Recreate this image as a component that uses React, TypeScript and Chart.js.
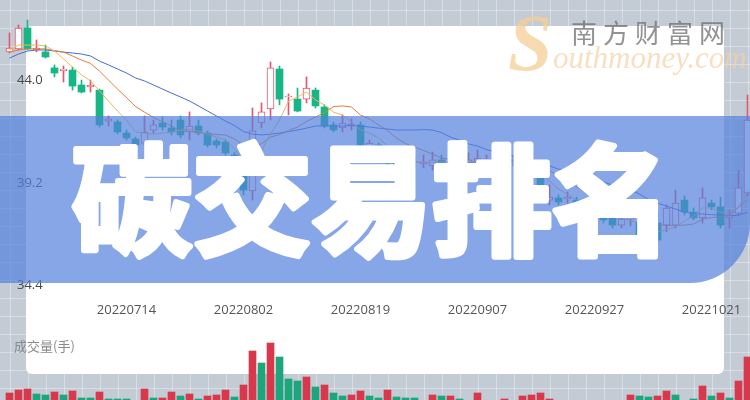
import React, { useEffect, useRef } from 'react';
import { Chart, registerables } from 'chart.js';

Chart.register(...registerables);
Chart.defaults.font.family = "'Open Sans', sans-serif";

const dates = [
  '20220627','20220628','20220629','20220630','20220701','20220704','20220705','20220706','20220707','20220708',
  '20220711','20220712','20220713','20220714','20220715','20220718','20220719','20220720','20220721','20220722',
  '20220725','20220726','20220727','20220728','20220729','20220801','20220802','20220803','20220804','20220805',
  '20220808','20220809','20220810','20220811','20220812','20220815','20220816','20220817','20220818','20220819',
  '20220822','20220823','20220824','20220825','20220826','20220829','20220830','20220831','20220901','20220902',
  '20220905','20220906','20220907','20220908','20220909','20220913','20220914','20220915','20220916','20220919',
  '20220920','20220921','20220922','20220923','20220926','20220927','20220928','20220929','20220930','20221010',
  '20221011','20221012','20221013','20221014','20221017','20221018','20221019','20221020','20221021','20221024',
  '20221025','20221026','20221027',
];

const tickDates = ['20220714', '20220802', '20220819', '20220907', '20220927', '20221021'];
const priceTicks = [34.4, 39.2, 44.0];

const opens = [
  45.34,45.48,46.46,45.43,45.34,44.59,44.45,44.49,43.79,43.70,
  43.55,42.10,42.06,41.54,41.26,41.07,41.68,42.01,41.78,42.15,
  41.59,41.87,41.54,41.17,41.12,40.51,39.67,38.83,42.01,42.67,
  44.54,43.23,43.13,43.13,43.55,42.76,41.92,41.78,41.87,41.92,
  40.89,40.98,40.51,40.28,40.05,40.14,40.09,40.00,40.28,40.05,
  40.19,40.05,40.09,40.28,40.37,40.19,40.28,40.19,39.81,39.48,
  38.40,38.50,38.45,38.40,38.03,37.23,37.61,37.61,37.23,37.51,
  37.37,36.76,37.33,37.23,37.23,38.40,37.84,37.56,38.26,38.08,
  37.56,37.79,38.73,
];
const closes = [
  45.52,46.46,45.48,45.52,45.10,44.35,44.54,43.74,43.46,43.79,
  41.92,42.20,41.59,41.31,40.98,41.59,41.92,41.82,41.59,41.45,
  41.87,41.54,40.98,40.98,40.61,39.91,38.87,41.64,42.53,44.59,
  43.13,43.27,42.57,43.65,42.81,41.87,41.68,42.01,41.96,40.98,
  41.07,40.51,40.14,40.09,40.19,40.19,40.19,40.28,40.00,40.23,
  40.14,40.28,40.37,40.33,40.05,40.37,40.23,39.81,39.44,38.54,
  38.54,38.31,38.54,38.03,37.66,37.61,37.47,37.23,37.51,37.56,
  36.53,36.44,36.53,38.03,38.26,37.84,37.56,38.50,38.08,37.23,
  37.70,38.97,42.15,
];
const highs = [
  46.23,46.60,46.83,45.90,45.66,44.73,44.68,44.63,44.02,44.02,
  43.60,42.34,42.15,41.68,41.35,42.34,42.15,42.29,42.15,42.34,
  42.53,42.15,41.64,41.26,41.21,40.65,39.81,42.71,42.95,44.87,
  44.68,43.37,43.65,44.17,43.65,42.86,42.06,42.39,42.20,42.06,
  41.21,41.07,40.75,40.42,40.37,40.47,40.51,40.65,40.51,40.42,
  40.42,40.61,40.75,40.51,40.51,40.75,40.51,40.37,39.95,39.57,
  39.11,38.64,38.78,38.54,38.17,37.84,37.75,37.70,37.66,37.70,
  37.56,37.00,37.84,38.17,38.87,38.59,38.03,38.97,38.40,38.54,
  37.94,39.81,43.32,
];
const lows = [
  45.29,45.43,45.43,45.34,45.05,44.17,43.93,43.55,43.42,43.46,
  41.82,41.87,41.50,41.21,40.89,40.98,41.54,41.68,41.45,41.31,
  41.21,41.45,40.89,40.84,40.51,39.72,38.64,38.40,41.78,42.15,
  42.86,42.39,42.53,42.95,42.71,41.78,41.59,41.59,41.68,40.89,
  40.75,40.37,40.00,39.91,39.91,39.95,39.91,39.81,39.91,39.91,
  39.95,39.91,39.95,40.05,39.91,40.05,40.00,39.72,39.34,38.40,
  38.17,38.17,38.26,37.84,37.47,37.09,37.33,37.09,37.09,37.19,
  35.73,36.16,36.35,36.91,37.09,37.70,37.47,37.33,37.94,37.09,
  37.09,37.66,38.59,
];

const ma5 = [
  45.43,45.66,45.66,45.66,45.62,45.38,45.01,44.63,44.26,43.98,
  43.51,43.04,42.57,42.15,41.59,41.54,41.49,41.54,41.59,41.68,
  41.73,41.63,41.49,41.35,41.21,40.79,40.28,40.42,40.70,41.49,
  42.15,43.04,43.23,43.46,43.09,42.85,42.52,42.38,42.06,41.68,
  41.54,41.31,40.93,40.56,40.42,40.23,40.14,40.16,40.19,40.17,
  40.20,40.18,40.22,40.28,40.23,40.28,40.28,40.14,40.00,39.67,
  39.29,38.92,38.68,38.40,38.21,38.03,37.84,37.61,37.51,37.47,
  37.28,37.04,36.90,37.00,37.14,37.42,37.65,38.03,38.03,37.84,
  37.79,38.07,38.82,
];
const ma10 = [
  45.33,45.43,45.48,45.48,45.48,45.40,45.33,45.15,44.96,44.80,
  44.44,44.02,43.60,43.20,42.78,42.52,42.27,42.06,41.87,41.63,
  41.63,41.56,41.52,41.47,41.45,41.26,40.96,40.96,41.03,41.35,
  41.47,41.66,41.82,42.08,42.29,42.50,42.78,42.81,42.76,42.38,
  42.20,41.92,41.66,41.31,41.05,40.88,40.72,40.56,40.37,40.30,
  40.21,40.16,40.18,40.23,40.21,40.23,40.23,40.21,40.11,39.97,
  39.78,39.53,39.34,39.03,38.75,38.47,38.26,38.00,37.86,37.75,
  37.56,37.32,37.21,37.23,37.21,37.23,37.28,37.51,37.58,37.63,
  37.72,38.05,38.43,
];
const ma20 = [
  45.05,45.24,45.38,45.43,45.43,45.38,45.33,45.29,45.24,45.15,
  44.91,44.73,44.54,44.35,44.12,43.98,43.79,43.60,43.41,43.23,
  43.04,42.81,42.57,42.34,42.10,41.89,41.61,41.49,41.45,41.49,
  41.54,41.61,41.68,41.77,41.87,41.87,41.87,41.87,41.89,41.87,
  41.82,41.77,41.73,41.68,41.68,41.68,41.70,41.68,41.56,41.35,
  41.21,41.03,40.93,40.77,40.63,40.56,40.46,40.37,40.23,40.14,
  40.00,39.85,39.76,39.62,39.48,39.34,39.25,39.10,38.99,38.87,
  38.68,38.43,38.26,38.12,37.98,37.84,37.77,37.75,37.72,37.70,
  37.65,37.70,37.82,
];

const volumes = [
  27000,30000,31000,26000,25000,28000,25000,29000,22000,22000,
  28000,21000,21000,21000,19000,31000,22000,22000,28000,24000,
  26000,21000,24000,25000,30000,23000,35000,69000,57000,77000,
  63000,41000,39000,43000,33000,35000,27000,24000,25000,29000,
  24000,22000,30000,23000,22000,22000,19000,25000,24000,24000,
  21000,18000,27000,18000,19000,21000,18000,24000,25000,27000,
  21000,17000,18000,16000,19000,18000,17000,19000,18000,25000,
  24000,23000,24000,29000,25000,19000,21000,34000,24000,27000,
  22000,39000,63000,
];
const volUp = [
  1,1,1,0,0,1,0,1,0,0,
  1,0,0,0,0,1,0,1,1,0,
  1,0,1,1,1,0,1,1,0,1,
  0,0,0,1,0,1,0,0,1,1,
  0,0,1,0,0,0,0,1,0,1,
  0,1,1,0,0,1,0,1,1,1,
  1,0,1,0,0,1,0,0,1,1,
  0,0,1,1,0,0,0,1,0,1,
  0,1,1,
];

const UP = '#E4566B';
const DOWN = '#17B686';
const VOL_UP = '#D8384B';
const VOL_DOWN = '#1DA57B';

const PAGE_W = 760;

function paintBackdrop(ctx: CanvasRenderingContext2D, offY: number, h: number) {
  ctx.save();
  ctx.translate(0, -offY);
  ctx.fillStyle = '#C3CBD5';
  ctx.fillRect(0, offY, PAGE_W, h);
  ctx.strokeStyle = 'rgba(255,255,255,0.34)';
  ctx.lineWidth = 1;
  ctx.beginPath();
  for (let x = 10.5; x < PAGE_W; x += 18) {
    ctx.moveTo(x, offY);
    ctx.lineTo(x, offY + h);
  }
  for (let y = 10.5; y < offY + h; y += 18) {
    if (y < offY) continue;
    ctx.moveTo(0, y);
    ctx.lineTo(PAGE_W, y);
  }
  ctx.stroke();
  ctx.fillStyle = '#ffffff';
  ctx.beginPath();
  (ctx as any).roundRect(26, 26, 698, 348, 6);
  ctx.fill();
  ctx.restore();
}

const priceDecor = {
  id: 'priceDecor',
  beforeDraw(chart: any) {
    paintBackdrop(chart.ctx, 0, chart.height);
  },
  afterDatasetsDraw(chart: any) {
    const ctx = chart.ctx as CanvasRenderingContext2D;
    ctx.save();
    ctx.fillStyle = 'rgba(82,128,222,0.7)';
    ctx.beginPath();
    ctx.moveTo(0, 116);
    ctx.lineTo(750, 116);
    ctx.lineTo(750, 223);
    ctx.arc(690, 223, 60, 0, Math.PI / 2);
    ctx.lineTo(0, 283);
    ctx.closePath();
    ctx.fill();
    ctx.restore();
  },
  afterDraw(chart: any) {
    const ctx = chart.ctx as CanvasRenderingContext2D;
    ctx.save();
    // title
    ctx.font = "bold 120px 'Noto Sans CJK SC'";
    ctx.textAlign = 'center';
    ctx.textBaseline = 'middle';
    ctx.fillStyle = '#ffffff';
    ctx.strokeStyle = '#ffffff';
    ctx.lineWidth = 6;
    ctx.lineJoin = 'round';
    ctx.strokeText('碳交易排名', 372, 200);
    ctx.fillText('碳交易排名', 372, 200);
    // watermark
    ctx.textAlign = 'left';
    ctx.textBaseline = 'alphabetic';
    ctx.font = "bold italic 80px 'Liberation Serif'";
    ctx.fillStyle = 'rgba(244,205,150,0.75)';
    ctx.fillText('S', 508, 70);
    ctx.font = "italic 31px 'Liberation Serif'";
    ctx.fillStyle = 'rgba(243,210,165,0.7)';
    ctx.fillText('outhmoney.com', 553, 68);
    ctx.font = "26px 'Noto Sans CJK SC'";
    (ctx as any).letterSpacing = '6px';
    ctx.textBaseline = 'middle';
    ctx.fillStyle = 'rgba(110,110,110,0.75)';
    ctx.fillText('南方财富网', 571, 33);
    ctx.restore();
  },
};

const volumeDecor = {
  id: 'volumeDecor',
  beforeDraw(chart: any) {
    const ctx = chart.ctx as CanvasRenderingContext2D;
    paintBackdrop(ctx, 320, chart.height);
    ctx.save();
    ctx.font = "13px 'Noto Sans CJK SC'";
    ctx.fillStyle = '#8a8a8a';
    ctx.textBaseline = 'middle';
    ctx.fillText('成交量(手)', 14, 26);
    ctx.restore();
  },
};

export default function App() {
  const priceRef = useRef<HTMLCanvasElement>(null);
  const volRef = useRef<HTMLCanvasElement>(null);

  useEffect(() => {
    const isUp = opens.map((o, i) => closes[i] >= o);
    const price = new Chart(priceRef.current as HTMLCanvasElement, {
      type: 'bar',
      data: {
        labels: dates,
        datasets: [
          { type: 'line', label: 'MA5', data: ma5, borderColor: '#F2B85A', borderWidth: 1, pointRadius: 0, order: 0 } as any,
          { type: 'line', label: 'MA10', data: ma10, borderColor: '#E07F3C', borderWidth: 1, pointRadius: 0, order: 0 } as any,
          { type: 'line', label: 'MA20', data: ma20, borderColor: '#4A6BD0', borderWidth: 1, pointRadius: 0, order: 0 } as any,
          {
            type: 'bar', label: 'body',
            data: opens.map((o, i) => [o, closes[i]]),
            backgroundColor: isUp.map((u) => (u ? '#ffffff' : DOWN)),
            borderColor: isUp.map((u) => (u ? UP : DOWN)),
            borderWidth: isUp.map((u) => (u ? 1 : 0)),
            borderSkipped: false, barThickness: 7, grouped: false, order: 1,
          } as any,
          {
            type: 'bar', label: 'wick',
            data: lows.map((l, i) => [l, highs[i]]),
            backgroundColor: isUp.map((u) => (u ? UP : DOWN)),
            borderWidth: 0, borderSkipped: false, barThickness: 1, grouped: false, order: 2,
          } as any,
        ],
      },
      options: {
        responsive: false,
        animation: false,
        events: [],
        layout: { padding: { left: 5, right: 8, top: 0, bottom: 0 } },
        plugins: { legend: { display: false }, tooltip: { enabled: false } },
        scales: {
          x: {
            type: 'category',
            offset: true,
            grid: { display: false, drawTicks: false },
            border: { display: false },
            ticks: { color: '#555555', font: { size: 13 }, padding: 4, maxRotation: 0, autoSkip: false },
            afterBuildTicks: (s: any) => {
              s.ticks = tickDates.map((d) => ({ value: dates.indexOf(d) }));
            },
            afterFit: (s: any) => {
              s.height = 22;
              s.paddingLeft = 0;
              s.paddingRight = 0;
            },
          },
          y: {
            type: 'linear',
            min: 33.814,
            max: 47.771,
            grid: { display: false, drawTicks: false },
            border: { display: false },
            ticks: {
              mirror: true, padding: 12, color: '#474747', font: { size: 13 },
              callback: (v: any) => Number(v).toFixed(1),
            },
            afterBuildTicks: (s: any) => {
              s.ticks = priceTicks.map((v) => ({ value: v }));
            },
            afterFit: (s: any) => {
              s.width = 0;
              s.paddingTop = 0;
              s.paddingBottom = 0;
            },
          },
        },
      } as any,
      plugins: [priceDecor],
    });

    const vol = new Chart(volRef.current as HTMLCanvasElement, {
      type: 'bar',
      data: {
        labels: dates,
        datasets: [
          {
            label: '成交量',
            data: volumes,
            backgroundColor: volUp.map((u) => (u ? VOL_UP : VOL_DOWN)),
            borderWidth: 0,
            barThickness: 7,
          },
        ],
      },
      options: {
        responsive: false,
        animation: false,
        events: [],
        layout: { padding: { left: 5, right: 8, top: 0, bottom: 0 } },
        plugins: { legend: { display: false }, tooltip: { enabled: false } },
        scales: {
          x: { display: false, offset: true },
          y: { display: false, min: 0, max: 100000 },
        },
      } as any,
      plugins: [volumeDecor],
    });

    return () => {
      price.destroy();
      vol.destroy();
    };
  }, []);

  return (
    <div style={{ position: 'absolute', left: 0, top: 0, width: 750, height: 400, overflow: 'hidden' }}>
      <canvas ref={priceRef} width={760} height={320} style={{ position: 'absolute', left: 0, top: 0, display: 'block' }} />
      <canvas ref={volRef} width={760} height={100} style={{ position: 'absolute', left: 0, top: 320, display: 'block' }} />
    </div>
  );
}
